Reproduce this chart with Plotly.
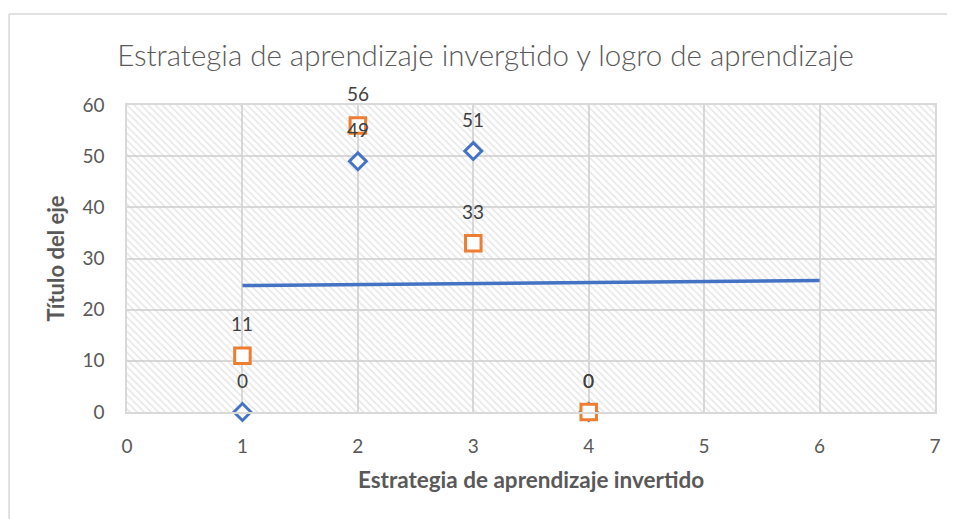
import numpy as np
import plotly.graph_objects as go

# Data
x_vals = [1, 2, 3, 4]
serie_azul = [0, 49, 51, 0]
serie_naranja = [11, 56, 33, 0]
x_ticks = [0, 1, 2, 3, 4, 5, 6, 7]
y_ticks = [0, 10, 20, 30, 40, 50, 60]
title_text = "Estrategia de aprendizaje invergtido y logro de aprendizaje"
x_title = "Estrategia de aprendizaje invertido"
y_title = "Título del eje"

BLUE = "#4472C4"
ORANGE = "#ED7D31"
GRID = "#D9D9D9"
TXT = "#595959"
FONT = "Lato"

# linear trend of blue series, forecast forward 2 units
slope, intercept = np.polyfit(x_vals, serie_azul, 1)
trend_x = [min(x_vals), max(x_vals) + 2]
trend_y = [slope * t + intercept for t in trend_x]

xr = [x_ticks[0], x_ticks[-1]]
yr = [y_ticks[0], y_ticks[-1]]

fig = go.Figure()

# hatched plot background (transparent between hatch lines so grid shows)
fig.add_trace(go.Scatter(
    x=[xr[0], xr[1], xr[1], xr[0], xr[0]],
    y=[yr[0], yr[0], yr[1], yr[1], yr[0]],
    mode="lines", fill="toself", line=dict(width=0),
    fillcolor="rgba(0,0,0,0)",
    fillpattern=dict(shape="\\", fgcolor="#CDCDCD", bgcolor="rgba(0,0,0,0)", size=5, solidity=0.3),
    hoverinfo="skip", showlegend=False,
))

fig.add_trace(go.Scatter(
    x=trend_x, y=trend_y, mode="lines",
    line=dict(color=BLUE, width=3.5), hoverinfo="skip", showlegend=False,
))

fig.add_trace(go.Scatter(
    x=x_vals, y=serie_azul, mode="markers",
    marker=dict(symbol="diamond", size=13, color="white", line=dict(color=BLUE, width=3)),
    showlegend=False, cliponaxis=False,
))
fig.add_trace(go.Scatter(
    x=x_vals, y=serie_naranja, mode="markers",
    marker=dict(symbol="square", size=15.5, color="white", line=dict(color=ORANGE, width=3)),
    showlegend=False, cliponaxis=False,
))

annotations = []
for xv, yv in zip(x_vals, serie_azul):
    annotations.append(dict(x=xv, y=yv, text=str(yv), showarrow=False, yshift=32,
                            font=dict(family=FONT, size=19, color="#404040")))
for xv, yv in zip(x_vals, serie_naranja):
    annotations.append(dict(x=xv, y=yv, text=str(yv), showarrow=False, yshift=32,
                            font=dict(family=FONT, size=19, color="#404040")))

fig.update_layout(
    width=955, height=519,
    margin=dict(l=119, r=28, t=97, b=115),
    paper_bgcolor="white", plot_bgcolor="white",
    title=dict(text=title_text, x=0.5, xanchor="center", y=0.908, yanchor="middle",
               font=dict(family=FONT, size=29.5, color=TXT, weight=300)),
    font=dict(family=FONT, color=TXT),
    annotations=annotations,
    shapes=[
        dict(type="line", xref="paper", yref="paper", x0=-0.146, x1=1.03, y0=1.2964, y1=1.2964,
             line=dict(color=GRID, width=1.5)),
        dict(type="line", xref="paper", yref="paper", x0=-0.146, x1=-0.146, y0=-0.4, y1=1.2964,
             line=dict(color=GRID, width=1.5)),
    ],
)
fig.update_xaxes(
    range=xr, tickvals=x_ticks, showgrid=True, gridcolor=GRID, gridwidth=1.5,
    zeroline=False, showline=True, linecolor=GRID, linewidth=1.5, mirror=True,
    ticks="", ticklabelstandoff=16,
    tickfont=dict(family=FONT, size=19, color=TXT),
    title=dict(text=x_title, font=dict(family=FONT, size=22.5, color=TXT, weight="bold"), standoff=17),
)
fig.update_yaxes(
    range=yr, tickvals=y_ticks, showgrid=True, gridcolor=GRID, gridwidth=1.5,
    zeroline=False, showline=True, linecolor=GRID, linewidth=1.5, mirror=True,
    ticks="", ticklabelstandoff=17,
    tickfont=dict(family=FONT, size=19, color=TXT),
    title=dict(text=y_title, font=dict(family=FONT, size=22, color=TXT, weight="bold"), standoff=12),
)

fig.write_html("out.html")
